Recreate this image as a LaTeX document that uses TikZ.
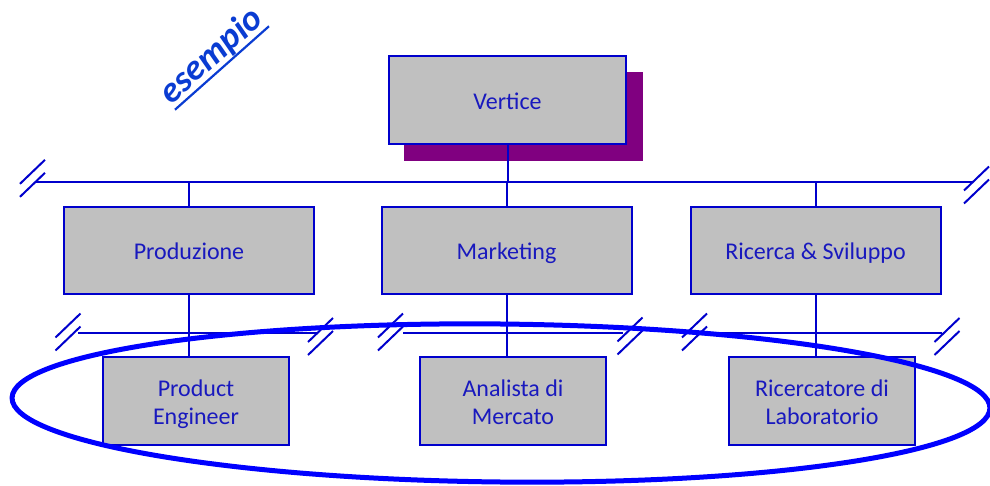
\documentclass[tikz,border=0pt]{standalone}
\usepackage{fontspec}
\setmainfont{Carlito}
\usetikzlibrary{calc}
\definecolor{linkblue}{RGB}{0,0,204}
\definecolor{textblue}{RGB}{25,25,190}
\definecolor{ringblue}{RGB}{0,0,255}
\definecolor{tagblue}{RGB}{10,60,210}
\definecolor{boxgray}{RGB}{192,192,192}
\definecolor{shadowpurple}{RGB}{128,0,128}
% struts giving every label the same top and bottom
\newcommand\topstrut{\rule{0pt}{24pt}}
\newcommand\botstrut{\rule[-6pt]{0pt}{6pt}}
\begin{document}
\begin{tikzpicture}[x=1pt,y=-1pt,
  orgbox/.style={draw=linkblue, line width=2pt, fill=boxgray, text=textblue,
    font=\fontsize{24}{28}\selectfont, align=center, inner sep=0pt},
  topbox/.style={orgbox, minimum width=237pt, minimum height=88pt},
  midbox/.style={orgbox, minimum width=250pt, minimum height=87pt},
  lowbox/.style={orgbox, minimum width=186pt, minimum height=88pt},
  link/.style={draw=linkblue, line width=2pt},
  pics/cut/.style={code={
    \draw[link] (-12.5,5.5) -- (12.5,-18.5);
    \draw[link] (-12.5,18.5) -- (12.5,-5.5);
  }}
]
\useasboundingbox (0,0) rectangle (990,485);

% title tag
\node[rotate=41.6, anchor=base, text=tagblue, inner sep=0pt,
      font=\fontsize{36}{40}\selectfont\bfseries\itshape] (tag) at (218,63.5) {esempio};
\draw[tagblue, line width=2.2pt]
  ($(tag.base west)!6pt!-90:(tag.base east)$) --
  ($(tag.base east)!6pt!90:(tag.base west)$);

% top of the hierarchy with its shadow
\fill[shadowpurple] (404,72) rectangle (643,161);
\node[topbox] (vert) at (507.5,100) {\topstrut Vertice\botstrut};

% first level
\node[midbox] (prod) at (189,250.5) {\topstrut Produzione\botstrut};
\node[midbox] (mkt)  at (506.5,250.5) {\topstrut Marketing\botstrut};
\node[midbox] (rs)   at (815.5,250.5) {\topstrut Ricerca \& Sviluppo\botstrut};

% second level
\node[lowbox] (pe) at (196,401) {\topstrut Product\\Engineer\botstrut};
\node[lowbox] (am) at (513,401) {\topstrut Analista di\\Mercato\botstrut};
\node[lowbox] (rl) at (822,401) {\topstrut Ricercatore di\\Laboratorio\botstrut};

% upper bus
\coordinate (tl) at (35,182);
\coordinate (tr) at (972,182);
\draw[link] (tl) -- (tr);
\draw[link] (vert.south) -- (vert.south |- tl);
\draw[link] (prod.north |- tl) -- (prod.north);
\draw[link] (mkt.north |- tl) -- (mkt.north);
\draw[link] (rs.north |- tl) -- (rs.north);
\pic at (32.5,178.3) {cut};
\pic at (976.5,185) {cut};

% lower buses, one per department
\coordinate (a1) at (78,333);
\coordinate (a2) at (318,333);
\coordinate (b1) at (403,333);
\coordinate (b2) at (623,333);
\coordinate (c1) at (707,333);
\coordinate (c2) at (942,333);
\draw[link] (a1) -- (a2);
\draw[link] (b1) -- (b2);
\draw[link] (c1) -- (c2);
\pic at (68,332) {cut};
\pic at (320.5,336.5) {cut};
\pic at (390.5,332) {cut};
\pic at (630,336) {cut};
\pic at (694.5,332) {cut};
\pic at (947,336.5) {cut};

\draw[link] (prod.south) -- (prod.south |- pe.north);
\draw[link] (mkt.south) -- (mkt.south |- am.north);
\draw[link] (rs.south) -- (rs.south |- rl.north);

% grouping ring around the operative roles
\draw[ringblue, line width=5pt, rotate around={-0.6:(501,403)}]
  (501,403) ellipse [x radius=489, y radius=79];
\end{tikzpicture}
\end{document}
